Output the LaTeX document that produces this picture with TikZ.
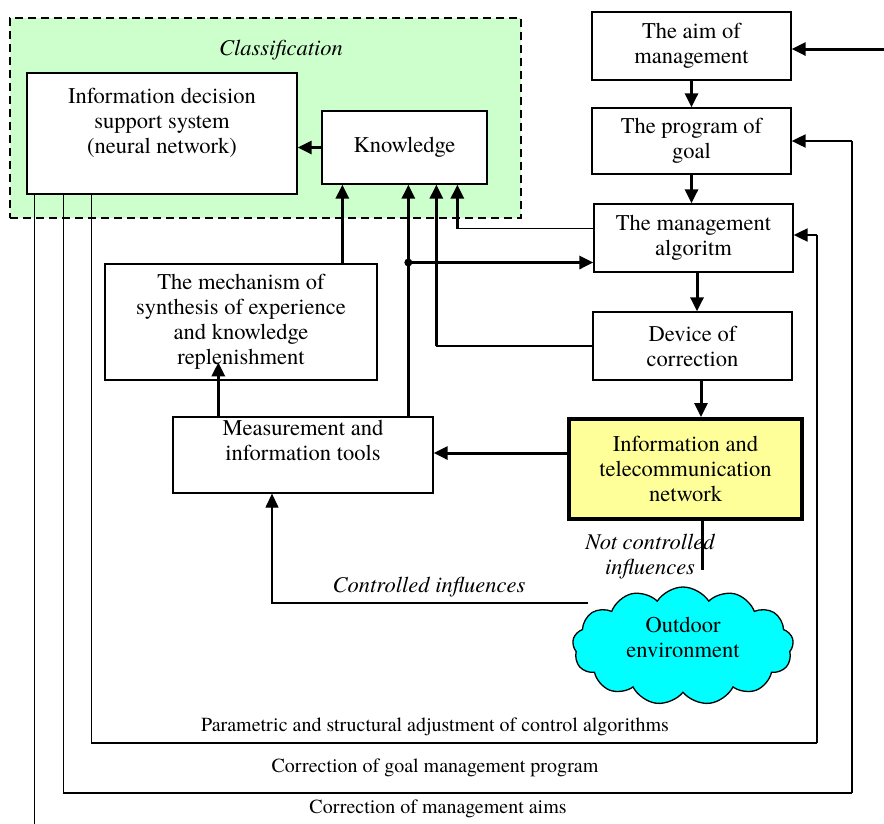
\documentclass[tikz,border=0pt]{standalone}
\usepackage{fontspec}
\setmainfont{texgyretermes}[Extension=.otf, UprightFont=*-regular, ItalicFont=*-italic, BoldFont=*-bold, BoldItalicFont=*-bolditalic]
\usetikzlibrary{arrows.meta,shapes.symbols,calc}
\definecolor{grn}{HTML}{CCFFCC}
\definecolor{ylw}{HTML}{FFFF99}
\definecolor{cyn}{HTML}{00FFFF}
\newcommand\bxfont{\fontsize{22.5}{25}\selectfont}
\newcommand\lbfont{\fontsize{20}{24}\selectfont}
\begin{document}
\begin{tikzpicture}[x=1pt,y=-1pt,
 box/.style={draw, line width=1.3pt, fill=white, inner sep=0pt, align=center, font=\bxfont},
 thn/.style={line width=1.3pt},
 tk/.style={line width=3pt},
 md/.style={line width=2pt},
 ar/.style={-{Triangle[length=14pt,width=13pt]}},
 lbl/.style={inner sep=0pt, font=\lbfont},
 itl/.style={inner sep=0pt, font=\bxfont\itshape, align=center}]
\useasboundingbox (0,0) rectangle (884,823);
% classification area
\node[draw, line width=2.5pt, dash pattern=on 8pt off 5pt, fill=grn, inner sep=0pt,
      minimum width=511pt, minimum height=200pt] (cls) at (265.5,118) {};
\node[itl] (clsl) at (281,50) {Classification};
% boxes
\node[box, minimum width=270pt, minimum height=121pt] (idss) at (162,133.5)
  {Information decision\\support system\\(neural network)\\\mbox{}};
\node[box, minimum width=165pt, minimum height=73pt] (know) at (404.5,147.5) {Knowledge};
\node[box, minimum width=199pt, minimum height=68pt] (aim) at (691.5,46) {The aim of\\management};
\node[box, minimum width=199pt, minimum height=66pt] (prog) at (691.5,141) {The program of\\goal};
\node[box, minimum width=199pt, minimum height=68pt] (alg) at (693.5,238) {The management\\algoritm};
\node[box, minimum width=199pt, minimum height=68pt] (dev) at (692.5,346) {Device of\\correction};
\node[box, line width=4pt, fill=ylw, minimum width=233pt, minimum height=100pt] (itn) at (685.5,469)
  {Information and\\telecommunication\\network};
\node[box, minimum width=260pt, minimum height=76pt] (meas) at (303,455) {Measurement and\\information tools\\[4pt]};
\node[box, minimum width=272pt, minimum height=116pt] (mech) at (241,322)
  {The mechanism of\\synthesis of experience\\and knowledge\\replenishment};
\node[cloud, cloud puffs=13, cloud puff arc=115, aspect=1.8, draw, fill=cyn, line width=1.3pt,
      minimum width=221pt, minimum height=118pt, inner sep=0pt] (env) at (683,646) {};
\node[inner sep=0pt, font=\bxfont, align=center] (envt) at (683,637) {Outdoor\\environment};
% labels
\node[itl] (ncl) at (650,557) {Not controlled\\influences};
\node[itl] (cil) at (429,587) {Controlled influences};
\node[lbl] (l1) at (435,727) {Parametric and structural adjustment of control algorithms};
\node[lbl] (l2) at (435,768) {Correction of goal management program};
\node[lbl] (l3) at (438,809) {Correction of management aims};
% coordinates
\coordinate (k1) at ([xshift=21pt]know.south west);
\coordinate (k2) at ([xshift=87pt]know.south west);
\coordinate (k3) at ([xshift=115pt]know.south west);
\coordinate (k4) at ([xshift=136pt]know.south west);
\coordinate (aw1) at ([yshift=9.5pt]alg.west);
\coordinate (aw2) at ([yshift=-24.5pt]alg.west);
\coordinate (aw3) at ([yshift=3pt]alg.east);
\coordinate (m1) at ([xshift=46pt]meas.north west);
\coordinate (mb) at ([xshift=-31pt]meas.south);
\coordinate (iw) at ([yshift=16pt]itn.west);
\coordinate (ci) at (588,603);
\coordinate (ain) at (884,49);
\coordinate (f1) at ([xshift=65pt]idss.south west);
\coordinate (f2) at ([xshift=37pt]idss.south west);
\coordinate (f3) at ([xshift=8pt]idss.south west);
\coordinate (c1) at (817,743);
\coordinate (c2) at (852,793);
% main chain
\draw[tk,ar] (ain) -- (ain -| aim.east);
\draw[tk,ar] (aim.south) -- (aim.south |- prog.north);
\draw[tk,ar] (prog.south) -- (prog.south |- alg.north);
\draw[tk,ar] ([xshift=3.5pt]alg.south) -- ([xshift=3.5pt]alg.south |- dev.north);
\draw[tk,ar] ([xshift=8.5pt]dev.south) -- ([xshift=8.5pt]dev.south |- itn.north);
\draw[tk,ar] (iw) -- (iw -| meas.east);
\draw[tk] ([xshift=16.5pt]itn.south) -- ++(0,49);
% into knowledge
\draw[tk,ar] (know.west) -- (know.west -| idss.east);
\draw[tk,ar] (k1 |- mech.north) -- (k1);
\draw[tk,ar] (k2 |- meas.north) -- (k2);
\fill (k2 |- aw2) circle (4pt);
\draw[tk,ar] (k2 |- aw2) -- (aw2);
\draw[thn] (dev.west) -- (k3 |- dev.west);
\draw[tk,ar] (k3 |- dev.west) -- (k3);
\draw[thn] (aw1) -- (k4 |- aw1);
\draw[tk,ar] (k4 |- aw1) -- (k4);
\draw[tk,ar] (m1) -- ++(0,-54);
% controlled influences
\draw[thn,ar] (ci) -| (mb);
% feedback loops
\draw[thn] (f1) -- (f1 |- c1);
\draw[md] (f1 |- c1) -- (c1);
\draw[thn] (c1) -- (c1 |- aw3);
\draw[md,ar] (c1 |- aw3) -- (aw3);
\draw[thn] (f2) -- (f2 |- c2);
\draw[md] (f2 |- c2) -- (c2);
\draw[thn] (c2) -- (c2 |- prog.east);
\draw[md,ar] (c2 |- prog.east) -- (prog.east);
\draw[thn] (f3) -- (f3 |- l3.south) -- ++(0,14);
\end{tikzpicture}
\end{document}
